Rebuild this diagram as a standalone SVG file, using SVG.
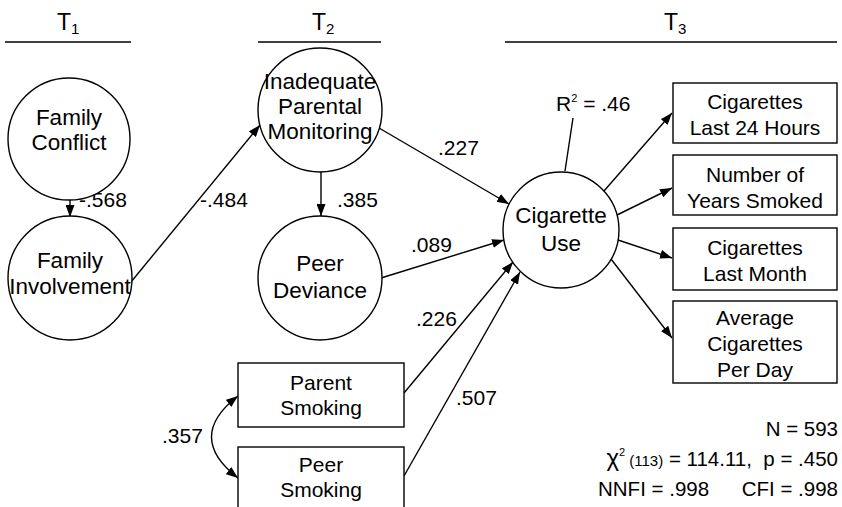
<svg xmlns="http://www.w3.org/2000/svg" width="842" height="507" viewBox="0 0 842 507">
<style>
  text { font-family: "Liberation Sans", Arial, sans-serif; fill: #000; }
  .node { fill: #fff; stroke: #000; stroke-width: 1.4; }
  .c { font-size: 22.5px; text-anchor: middle; }
  .b { font-size: 21px; text-anchor: middle; }
  .lbl { font-size: 21px; }
  .st { font-size: 20.5px; }
  .edge { fill: none; stroke: #000; stroke-width: 1.4; }
  .rule { stroke: #000; stroke-width: 1.4; }
</style>
<defs>
  <marker id="ah" viewBox="0 0 12 9" refX="12" refY="4.5" markerWidth="12" markerHeight="9" markerUnits="userSpaceOnUse" orient="auto-start-reverse">
    <path d="M0,0 L12,4.5 L0,9 z" fill="#000"/>
  </marker>
</defs>
<rect width="842" height="507" fill="#fff"/>

<g id="headers">
  <text x="57" y="30" font-size="23">T<tspan font-size="15" dy="4">1</tspan></text>
  <line class="rule" x1="5" y1="42" x2="131" y2="42"/>
  <text x="312" y="30" font-size="23">T<tspan font-size="15" dy="4">2</tspan></text>
  <line class="rule" x1="258" y1="42" x2="381" y2="42"/>
  <text x="664" y="30" font-size="23">T<tspan font-size="15" dy="4">3</tspan></text>
  <line class="rule" x1="505" y1="42" x2="837" y2="42"/>
</g>

<g id="connectors">
  <path class="edge" d="M70,200 L70,217" marker-end="url(#ah)"/>
  <path class="edge" d="M131,282 L260,125" marker-end="url(#ah)"/>
  <path class="edge" d="M321,172 L321,216" marker-end="url(#ah)"/>
  <path class="edge" d="M379,128 L509,204" marker-end="url(#ah)"/>
  <path class="edge" d="M381,278 L504,240" marker-end="url(#ah)"/>
  <path class="edge" d="M404,393 L513,262" marker-end="url(#ah)"/>
  <path class="edge" d="M404,476 L520,272" marker-end="url(#ah)"/>
  <path class="edge" d="M604,191 L672,113" marker-end="url(#ah)"/>
  <path class="edge" d="M617,215 L672,188" marker-end="url(#ah)"/>
  <path class="edge" d="M618,240 L672,258" marker-end="url(#ah)"/>
  <path class="edge" d="M611,259 L672,338" marker-end="url(#ah)"/>
  <path class="edge" d="M573,118 L565,171"/>
  <path class="edge" d="M238,396 Q185,437 238,478" marker-start="url(#ah)" marker-end="url(#ah)"/>
  <text class="lbl" x="79" y="207">-.568</text>
  <text class="lbl" x="200" y="207">-.484</text>
  <text class="lbl" x="337" y="207">.385</text>
  <text class="lbl" x="438" y="155">.227</text>
  <text class="lbl" x="411" y="252">.089</text>
  <text class="lbl" x="416" y="326">.226</text>
  <text class="lbl" x="456" y="405">.507</text>
  <text class="lbl" x="162" y="443">.357</text>
  <text class="lbl" x="556" y="111">R<tspan font-size="11" dy="-9">2</tspan><tspan dy="9"> = .46</tspan></text>
</g>

<g id="family-conflict">
  <circle class="node" cx="69" cy="139" r="61"/>
  <text class="c" x="69" y="125">Family</text>
  <text class="c" x="69" y="150">Conflict</text>
</g>
<g id="family-involvement">
  <circle class="node" cx="70" cy="278" r="62"/>
  <text class="c" x="70" y="268">Family</text>
  <text class="c" x="70" y="294">Involvement</text>
</g>
<g id="parental-monitoring">
  <circle class="node" cx="320" cy="110" r="62"/>
  <text class="c" x="320" y="89">Inadequate</text>
  <text class="c" x="320" y="114">Parental</text>
  <text class="c" x="320" y="139">Monitoring</text>
</g>
<g id="peer-deviance">
  <circle class="node" cx="320" cy="278" r="62"/>
  <text class="c" x="320" y="271">Peer</text>
  <text class="c" x="320" y="298">Deviance</text>
</g>
<g id="cigarette-use">
  <circle class="node" cx="561" cy="230" r="58"/>
  <text class="c" x="561" y="223">Cigarette</text>
  <text class="c" x="561" y="251">Use</text>
</g>
<g id="cig-24h">
  <rect class="node" x="673" y="83" width="164" height="60"/>
  <text class="b" x="755" y="109">Cigarettes</text>
  <text class="b" x="755" y="135">Last 24 Hours</text>
</g>
<g id="years-smoked">
  <rect class="node" x="673" y="155" width="164" height="60"/>
  <text class="b" x="755" y="182">Number of</text>
  <text class="b" x="755" y="208">Years Smoked</text>
</g>
<g id="cig-month">
  <rect class="node" x="673" y="228" width="164" height="62"/>
  <text class="b" x="755" y="255">Cigarettes</text>
  <text class="b" x="755" y="281">Last Month</text>
</g>
<g id="avg-per-day">
  <rect class="node" x="673" y="301" width="164" height="82"/>
  <text class="b" x="755" y="325">Average</text>
  <text class="b" x="755" y="351">Cigarettes</text>
  <text class="b" x="755" y="377">Per Day</text>
</g>
<g id="parent-smoking">
  <rect class="node" x="238" y="363" width="166" height="64"/>
  <text class="b" x="321" y="390">Parent</text>
  <text class="b" x="321" y="415">Smoking</text>
</g>
<g id="peer-smoking">
  <rect class="node" x="238" y="447" width="166" height="70"/>
  <text class="b" x="321" y="472">Peer</text>
  <text class="b" x="321" y="497">Smoking</text>
</g>

<g id="stats">
  <text class="st" x="838" y="436" text-anchor="end">N = 593</text>
  <text class="st" x="838" y="466" text-anchor="end" xml:space="preserve"><tspan font-size="24">χ</tspan><tspan font-size="11" dy="-10">2</tspan><tspan font-size="15" dy="10"> (113)</tspan> = 114.11,  p = .450</text>
  <text class="st" x="598" y="496">NNFI = .998</text>
  <text class="st" x="838" y="496" text-anchor="end">CFI = .998</text>
</g>
</svg>
